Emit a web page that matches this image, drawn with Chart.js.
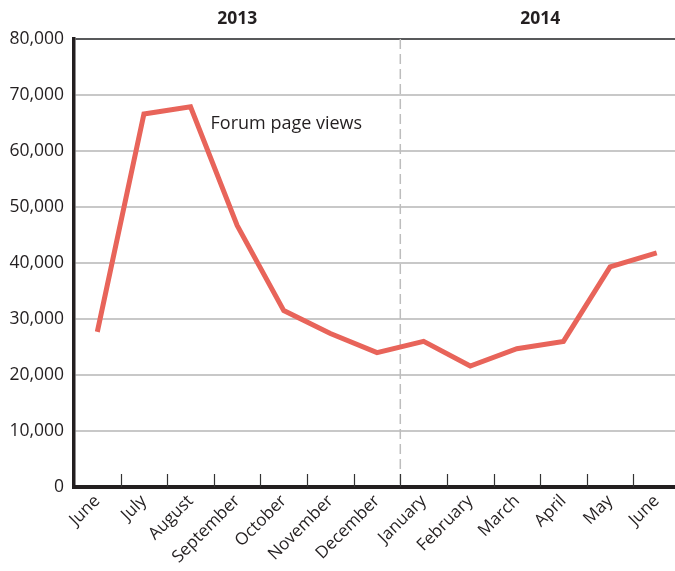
<!DOCTYPE html>
<html>
<head>
<meta charset="utf-8">
<script src="https://cdn.jsdelivr.net/npm/chart.js@4"></script>
<style>
  html, body { margin: 0; padding: 0; background: #fff; overflow: hidden; }
  #wrap { position: relative; width: 680px; height: 571px; }
</style>
</head>
<body>
<div id="wrap"><canvas id="chart"></canvas></div>
<script>
// --- Data ---
const months = ['June', 'July', 'August', 'September', 'October', 'November', 'December',
                'January', 'February', 'March', 'April', 'May', 'June'];
const years = ['2013', '2014'];
const pageViews = [27700, 66600, 67900, 46700, 31500, 27400, 24000,
                   26000, 21600, 24700, 26000, 39300, 41800];
const seriesLabel = 'Forum page views';

const ink = '#231f20';
const fontFamily = '"Open Sans", "Noto Sans", sans-serif';

// extra bits: year headers, divider, inner ticks, series label
const decorations = {
  id: 'decorations',
  beforeDatasetsDraw(chart) {
    const { ctx, chartArea, scales: { x } } = chart;
    const xDiv = (x.getPixelForValue(6) + x.getPixelForValue(7)) / 2;
    ctx.save();
    ctx.strokeStyle = '#bdbdbd';
    ctx.lineWidth = 1.5;
    ctx.setLineDash([10, 5]);
    ctx.beginPath();
    ctx.moveTo(xDiv, chartArea.top);
    ctx.lineTo(xDiv, chartArea.bottom);
    ctx.stroke();
    ctx.restore();
  },
  afterDraw(chart) {
    const { ctx, chartArea, scales: { x, y } } = chart;
    ctx.save();

    // small tick marks between months, pointing up from the axis
    ctx.strokeStyle = '#333';
    ctx.lineWidth = 1.2;
    for (let i = 1; i < months.length; i++) {
      const px = Math.round((x.getPixelForValue(i - 1) + x.getPixelForValue(i)) / 2) + 0.5;
      ctx.beginPath();
      ctx.moveTo(px, chartArea.bottom - 13);
      ctx.lineTo(px, chartArea.bottom);
      ctx.stroke();
    }

    // year headers
    ctx.fillStyle = ink;
    ctx.font = 'bold 17.5px ' + fontFamily;
    ctx.textAlign = 'center';
    ctx.textBaseline = 'middle';
    ctx.fillText(years[0], (x.getPixelForValue(0) + x.getPixelForValue(6)) / 2, 19);
    ctx.fillText(years[1], (x.getPixelForValue(7) + x.getPixelForValue(12)) / 2, 19);

    // series label
    ctx.font = '18px ' + fontFamily;
    ctx.textAlign = 'left';
    ctx.textBaseline = 'alphabetic';
    ctx.fillText(seriesLabel, x.getPixelForValue(2) + 20, y.getPixelForValue(64000));

    ctx.restore();
  }
};

new Chart(document.getElementById('chart'), {
  type: 'line',
  data: {
    labels: months,
    datasets: [{
      label: seriesLabel,
      data: pageViews,
      borderColor: '#e8645a',
      borderWidth: 5,
      pointRadius: 0,
      tension: 0,
      borderCapStyle: 'butt',
      borderJoinStyle: 'miter',
      fill: false
    }]
  },
  options: {
    responsive: true,
    maintainAspectRatio: false,
    animation: false,
    layout: { padding: { top: 39, right: 0, left: 0, bottom: 0 } },
    plugins: {
      legend: { display: false },
      tooltip: { enabled: false }
    },
    scales: {
      x: {
        offset: true,
        grid: { display: false, drawTicks: false },
        border: { display: true, color: ink, width: 4 },
        ticks: {
          color: ink,
          font: { family: fontFamily, size: 17 },
          minRotation: 45,
          maxRotation: 45,
          autoSkip: false,
          padding: 4
        },
        afterFit: s => { s.height = 84; }
      },
      y: {
        min: 0,
        max: 80000,
        ticks: {
          stepSize: 10000,
          color: ink,
          padding: 10,
          font: { family: fontFamily, size: 17.5 },
          callback: v => v.toLocaleString('en-US')
        },
        grid: {
          drawTicks: false,
          lineWidth: 2,
          color: c => (c.tick && c.tick.value === 80000 ? '#58595b' : '#c8c8c8')
        },
        border: { display: true, color: ink, width: 3.5 },
        afterFit: s => { s.width = 74; }
      }
    }
  },
  plugins: [decorations]
});
</script>
</body>
</html>
